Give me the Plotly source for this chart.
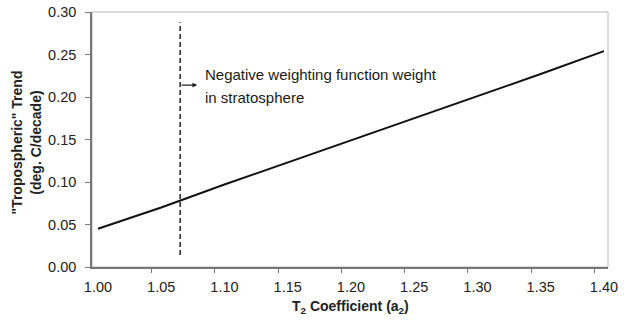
import plotly.graph_objects as go

# data
a2 = [1.00, 1.05, 1.10, 1.15, 1.20, 1.25, 1.30, 1.35, 1.40]
trend = [0.045, 0.070, 0.097, 0.123, 0.149, 0.175, 0.201, 0.227, 0.254]
cutoff_x = [1.065, 1.065]
cutoff_y = [0.014, 0.288]
x_ticks = [1.00, 1.05, 1.10, 1.15, 1.20, 1.25, 1.30, 1.35, 1.40]
x_ticklabels = ["1.00", "1.05", "1.10", "1.15", "1.20", "1.25", "1.30", "1.35", "1.40"]
y_ticks = [0.00, 0.05, 0.10, 0.15, 0.20, 0.25, 0.30]
y_ticklabels = ["0.00", "0.05", "0.10", "0.15", "0.20", "0.25", "0.30"]
note_line1 = "Negative weighting function weight"
note_line2 = "in stratosphere"
x_title = "<b>T<sub>2</sub> Coefficient (a<sub>2</sub>)</b>"
y_title = "<b>\"Tropospheric\" Trend<br>(deg. C/decade)</b>"

FONT = "Liberation Sans, Arial, sans-serif"
xr = [0.9953, 1.4032]

fig = go.Figure()
fig.add_trace(go.Scatter(x=a2, y=trend, mode="lines",
                         line=dict(color="#111111", width=2), showlegend=False))
fig.add_trace(go.Scatter(x=cutoff_x, y=cutoff_y, mode="lines",
                         line=dict(color="#222222", width=1.5, dash="5px,3px"),
                         showlegend=False))
# offset tick marks (category-style) on overlay axis
fig.add_trace(go.Scatter(x=[1.0], y=[0.0], xaxis="x2", mode="markers",
                         marker=dict(opacity=0), showlegend=False, hoverinfo="skip"))

fig.add_annotation(x=cutoff_x[0] + 0.0135, y=0.214, ax=cutoff_x[0], ay=0.214,
                   xref="x", yref="y", axref="x", ayref="y", text="",
                   showarrow=True, arrowhead=2, arrowsize=0.8, arrowwidth=1.2,
                   arrowcolor="#222222")
fig.add_annotation(x=1.083, y=0.227, xref="x", yref="y", text=note_line1,
                   showarrow=False, xanchor="left", yanchor="middle", align="left",
                   font=dict(family=FONT, size=15, color="#1a1a1a"))
fig.add_annotation(x=1.083, y=0.200, xref="x", yref="y", text=note_line2,
                   showarrow=False, xanchor="left", yanchor="middle", align="left",
                   font=dict(family=FONT, size=15, color="#1a1a1a"))

# axis titles
fig.add_annotation(x=0.5, y=-0.155, xref="paper", yref="paper", text=x_title,
                   showarrow=False, xanchor="center", yanchor="middle",
                   font=dict(family=FONT, size=14, color="#222222"))
fig.add_annotation(x=-0.127, y=0.49, xref="paper", yref="paper", text=y_title,
                   showarrow=False, xanchor="center", yanchor="middle",
                   textangle=-90,
                   font=dict(family=FONT, size=14, color="#222222"))

fig.add_shape(type="rect", xref="paper", yref="paper", x0=0, x1=1, y0=0, y1=1,
              line=dict(color="#b8b8b8", width=1), layer="below")

fig.update_layout(
    width=628, height=327,
    margin=dict(l=92, r=20, t=12, b=60, autoexpand=False),
    plot_bgcolor="white", paper_bgcolor="white",
    font=dict(family=FONT, size=14, color="#222222"),
    xaxis=dict(range=xr, tickvals=x_ticks, ticktext=x_ticklabels,
               ticks="", showgrid=False, zeroline=False, automargin=False,
               showline=True, linecolor="#777777", linewidth=1.5,
               ticklabelstandoff=6,
               tickfont=dict(size=14.5, color="#222222")),
    xaxis2=dict(range=xr, overlaying="x", side="bottom", anchor="y",
                tickvals=[v - 0.0075 for v in x_ticks[1:]], automargin=False,
                ticks="outside", ticklen=5, tickcolor="#777777",
                showticklabels=False, showgrid=False, zeroline=False,
                showline=False),
    yaxis=dict(range=[0, 0.30], tickvals=y_ticks, ticktext=y_ticklabels,
               ticks="outside", ticklen=5, tickcolor="#777777",
               showgrid=False, zeroline=False, automargin=False,
               showline=True, linecolor="#777777", linewidth=1.5,
               ticklabelstandoff=6,
               tickfont=dict(size=14.5, color="#222222")),
)

fig.write_html("out.html")
